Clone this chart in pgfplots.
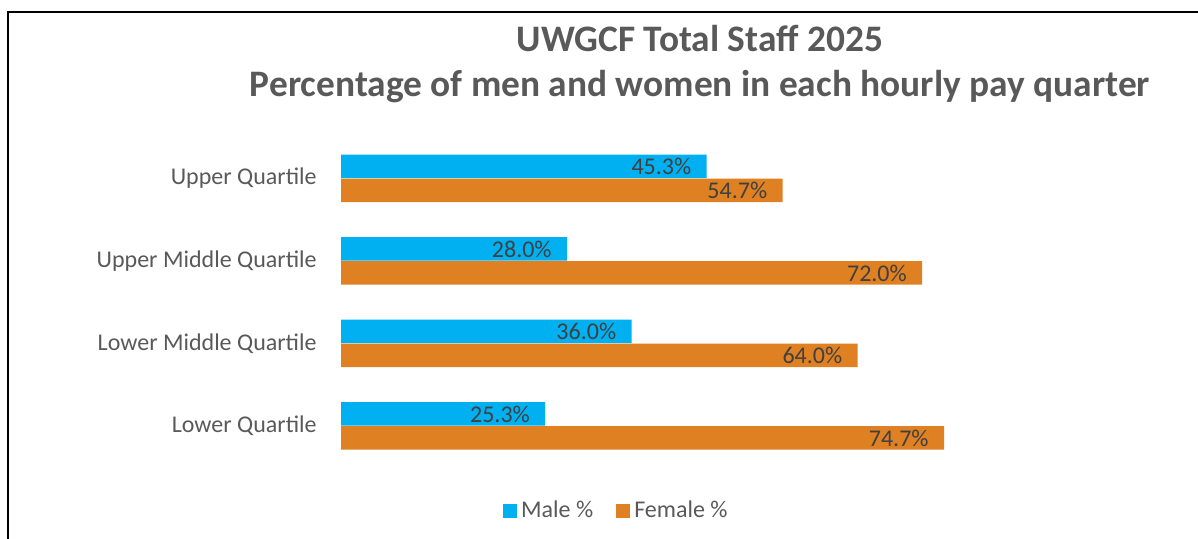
\documentclass[border=0pt]{standalone}
\usepackage{fontspec}
\setmainfont{Carlito}
\usepackage{pgfplots}
\pgfplotsset{compat=1.18}
\definecolor{maleblue}{RGB}{0,176,240}
\definecolor{femaleorange}{RGB}{223,128,34}
\definecolor{txtgray}{RGB}{89,89,89}
\definecolor{lblgray}{RGB}{64,64,64}
\begin{document}
\begin{tikzpicture}
\useasboundingbox (0,0) rectangle (599pt,269.5pt);
\draw[line width=1pt] (4pt,0) -- (4pt,263.5pt) -- (599pt,263.5pt);
\node[anchor=base, font=\fontsize{18.7}{22}\selectfont\bfseries, text=txtgray] at (350pt,243.5pt) {UWGCF Total Staff 2025};
\node[anchor=base, font=\fontsize{18.7}{22}\selectfont\bfseries, text=txtgray] at (350pt,221pt) {Percentage of men and women in each hourly pay quarter};
\begin{axis}[
 at={(170.5pt,35.875pt)}, anchor=south west,
 scale only axis, width=322.9pt, height=165pt,
 xbar, bar width=11.75pt, clip=false,
 xmin=0, xmax=80, ymin=-0.5, ymax=3.5,
 ytick={0,1,2,3},
 yticklabels={Lower Quartile, Lower Middle Quartile, Upper Middle Quartile, Upper Quartile},
 xtick=\empty,
 axis line style={draw=none}, major tick length=0pt,
 yticklabel style={font=\fontsize{12}{14}\selectfont, text=txtgray, inner sep=0pt, xshift=-12pt},
 nodes near coords={\pgfmathprintnumber[fixed,fixed zerofill,precision=1]{\pgfplotspointmeta}\%},
 nodes near coords style={anchor=east, inner sep=0pt, xshift=-7.5pt, font=\fontsize{12}{14}\selectfont, text=lblgray},
 /pgf/number format/assume math mode=true,
 legend style={at={(0.428,-0.1326)}, anchor=center, draw=none, legend columns=2,
   font=\fontsize{12}{14}\selectfont, text=txtgray,
   /tikz/every even column/.append style={column sep=9.5pt}},
 legend image code/.code={\fill[#1] (0pt,-3.5pt) rectangle (7pt,3.5pt);},
]
\addplot[fill=maleblue, draw=none, bar shift=6pt] coordinates {(25.3,0) (36.0,1) (28.0,2) (45.3,3)};
\addplot[fill=femaleorange, draw=none, bar shift=-6pt] coordinates {(74.7,0) (64.0,1) (72.0,2) (54.7,3)};
\legend{Male \%, Female \%}
\end{axis}
\end{tikzpicture}
\end{document}
